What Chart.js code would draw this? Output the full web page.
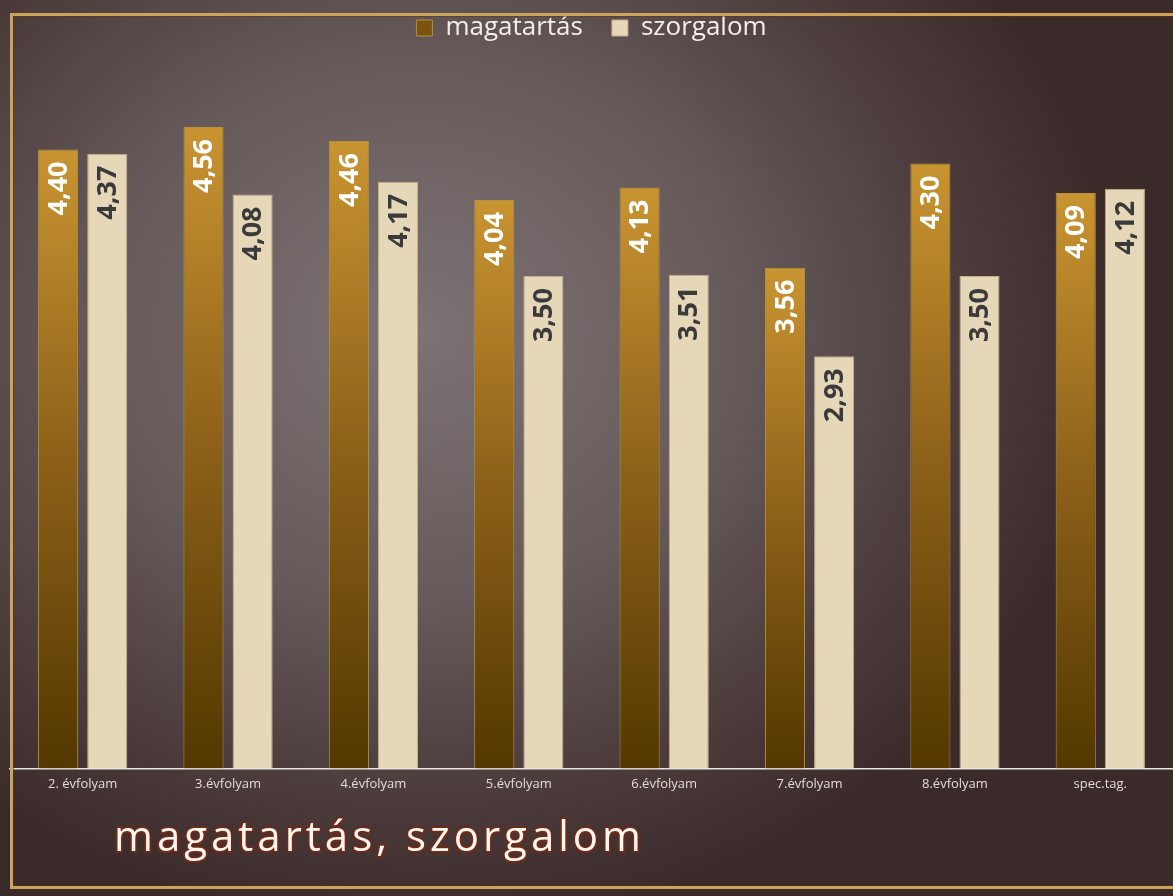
<!DOCTYPE html>
<html><head><meta charset="utf-8">
<script src="https://cdn.jsdelivr.net/npm/chart.js@4.4.0/dist/chart.umd.min.js"></script>
<style>
html,body{margin:0;padding:0;width:1173px;height:896px;overflow:hidden;}
body{background:radial-gradient(ellipse 700px 600px at 420px 330px,#7e7374 0%,#665a5b 45%,#4a3a3a 80%,#3a2a29 100%);position:relative;font-family:"Open Sans",sans-serif;}
#wrap{position:absolute;left:0;top:0;width:1173px;height:896px;}
#frame{position:absolute;left:10px;top:13px;width:1200px;height:870px;border:3px solid #c9a459;box-sizing:content-box;box-shadow:inset 0 0 0 1px rgba(90,50,30,0.5);pointer-events:none;}
#title{position:absolute;left:114px;top:806px;font-family:"Open Sans",sans-serif;font-size:42px;letter-spacing:4px;color:#fff6ef;
text-shadow:-1.5px -1.5px 0 #6e2a1a,1.5px -1.5px 0 #6e2a1a,-1.5px 1.5px 0 #6e2a1a,1.5px 1.5px 0 #6e2a1a,0 2px 0 #6e2a1a,2px 0 0 #6e2a1a,-2px 0 0 #6e2a1a,0 -2px 0 #6e2a1a;}
</style></head>
<body>
<div id="wrap"><canvas id="c" width="1173" height="896"></canvas></div>
<div id="frame"></div>
<div id="title">magatartás, szorgalom</div>
<script>
const categories = ["2. évfolyam","3.évfolyam","4.évfolyam","5.évfolyam","6.évfolyam","7.évfolyam","8.évfolyam","spec.tag."];
const magatartas = [4.40,4.56,4.46,4.04,4.13,3.56,4.30,4.09];
const szorgalom = [4.37,4.08,4.17,3.50,3.51,2.93,3.50,4.12];
const seriesNames = ["magatartás","szorgalom"];

function goldGrad(ctx){
  const ch = ctx.chart; const a = ch.chartArea;
  if(!a || ctx.type !== 'data') return '#9a6c20';
  const ys = ch.scales.y;
  const top = ys.getPixelForValue(ctx.raw);
  const g = ch.ctx.createLinearGradient(0,top,0,a.bottom);
  g.addColorStop(0,'#c99431');
  g.addColorStop(0.5,'#8c6019');
  g.addColorStop(1,'#533800');
  return g;
}

const valueLabels = {
  id:'valueLabels',
  afterDatasetsDraw(chart){
    const ctx = chart.ctx;
    chart.data.datasets.forEach((ds,di)=>{
      const meta = chart.getDatasetMeta(di);
      meta.data.forEach((bar,i)=>{
        const txt = ds.data[i].toFixed(2).replace('.',',');
        ctx.save();
        ctx.translate(bar.x, bar.y + 12);
        ctx.rotate(-Math.PI/2);
        ctx.font = 'bold 27px "Open Sans", sans-serif';
        ctx.textAlign = 'right';
        ctx.textBaseline = 'middle';
        ctx.fillStyle = di===0 ? '#ffffff' : '#3a3a3a';
        ctx.fillText(txt, 0, 1);
        ctx.restore();
      });
    });
  }
};

new Chart(document.getElementById('c'),{
  type:'bar',
  data:{
    labels:categories,
    datasets:[
      {label:seriesNames[0],data:magatartas,backgroundColor:goldGrad,borderColor:'#b8913c',borderWidth:1,categoryPercentage:0.676,barPercentage:0.816},
      {label:seriesNames[1],data:szorgalom,backgroundColor:'#e6d7b9',borderColor:'#c7ae84',borderWidth:1,categoryPercentage:0.676,barPercentage:0.816}
    ]
  },
  options:{
    responsive:false,
    animation:false,
    layout:{padding:{left:10,right:0,top:-14,bottom:96}},
    plugins:{
      legend:{
        position:'top',
        labels:{
          color:'#f4eee8',
          font:{family:'"Open Sans", sans-serif',size:26},
          boxWidth:16,boxHeight:16,padding:29,
          generateLabels(chart){
            return chart.data.datasets.map((d,i)=>({
              text:d.label,
              fillStyle:i===0?'#7a5212':'#e6d7b9',
              strokeStyle:i===0?'#b8913c':'#c7ae84',
              lineWidth:1,
              fontColor:'#f4eee8',
              datasetIndex:i,hidden:false
            }));
          }
        }
      },
      tooltip:{enabled:false}
    },
    scales:{
      x:{
        grid:{display:false,drawTicks:false},
        border:{display:true,color:'#e8e4e4',width:1.5},
        ticks:{color:'#e2dbd4',font:{family:'"Open Sans", sans-serif',size:13},padding:8}
      },
      y:{display:false,min:0,max:5.1}
    }
  },
  plugins:[valueLabels]
});
</script>
</body></html>
